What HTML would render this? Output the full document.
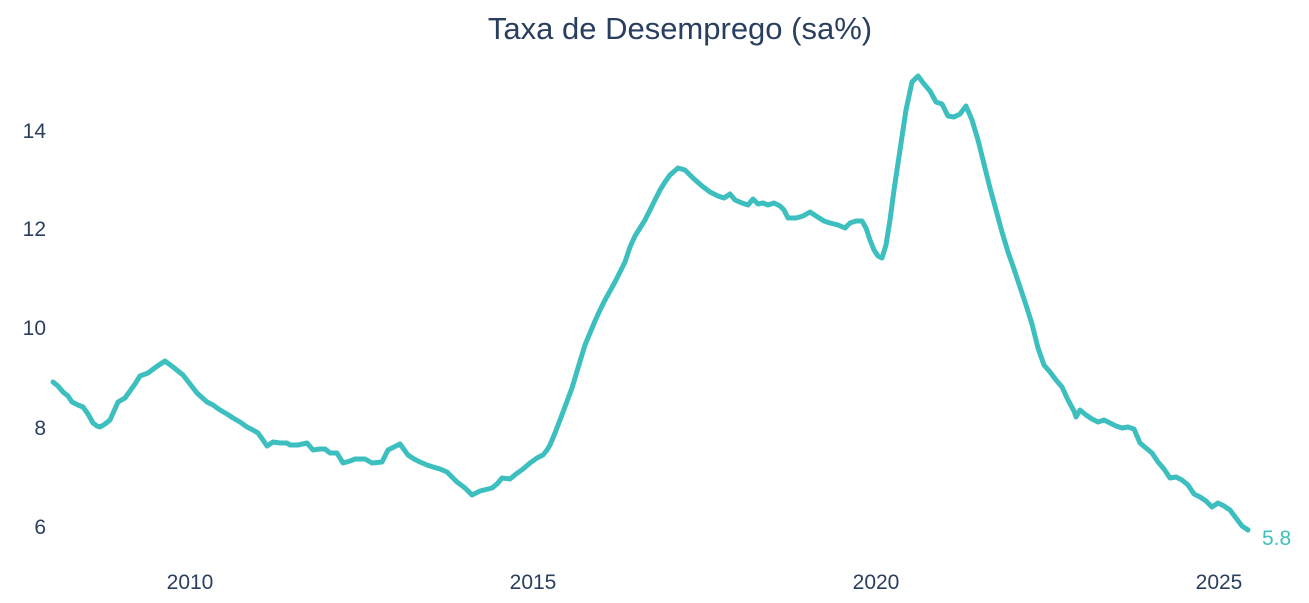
<!DOCTYPE html>
<html><head><meta charset="utf-8"><style>
html,body{margin:0;padding:0;background:#fff;width:1309px;height:603px;overflow:hidden}
svg text{font-family:"Liberation Sans","DejaVu Sans",sans-serif}
</style></head><body>
<svg width="1309" height="603" viewBox="0 0 1309 603" xmlns="http://www.w3.org/2000/svg">
<text x="680" y="39" text-anchor="middle" font-size="31" fill="#2a3f5f">Taxa de Desemprego (sa%)</text>
<g font-size="21" fill="#2a3f5f" text-anchor="end">
<text x="46" y="138">14</text>
<text x="46" y="236">12</text>
<text x="46" y="335">10</text>
<text x="46" y="435">8</text>
<text x="46" y="534">6</text>
</g>
<g font-size="21" fill="#2a3f5f" text-anchor="middle">
<text x="190" y="589">2010</text>
<text x="533" y="589">2015</text>
<text x="876" y="589">2020</text>
<text x="1219" y="589">2025</text>
</g>
<polyline fill="none" stroke="#3dbfbf" stroke-width="5" stroke-linejoin="round" stroke-linecap="round" points="53,382 58,386 63,392 68,396 72,402 78,405 83,407 88,414 93,423 97,426 100,427 105,424 110,420 114,411 118,402 125,398 130,391 135,384 140,376 148,373 156,367 165,361 173,367 178,371 183,375 190,384 197,393 207,402 213,405 220,410 227,414 233,418 240,422 247,427 253,430 258,433 263,440 267,446 273,442 280,443 287,443 290,445 298,445 307,443 313,450 320,449 325,449 330,453 337,453 343,463 350,461 355,459 365,459 372,463 382,462 388,450 394,447 400,444 408,455 414,459 420,462 427,465 433,467 440,469 447,472 452,477 457,482 465,488 472,495 480,491 492,488 497,484 502,478 510,479 516,474 523,469 530,463 537,458 543,455 547,450 550,445 555,433 560,420 566,404 572,388 578,368 585,345 590,333 595,321 600,310 605,300 610,291 615,282 620,272 625,262 630,247 635,236 640,228 645,220 650,210 655,200 660,190 665,182 670,175 678,168 685,170 693,178 702,186 710,192 718,196 724,198 730,194 735,200 742,203 748,205 753,199 758,204 763,203 768,205 774,203 780,206 784,210 788,218 796,218 803,216 810,212 816,216 824,221 830,223 838,225 845,228 850,223 856,221 862,221 866,228 870,240 874,250 878,256 882,258 886,245 890,220 894,190 900,150 906,110 912,82 918,76 924,84 930,91 936,102 942,104 948,116 954,117 960,114 966,106 972,120 978,140 984,164 990,188 996,210 1002,232 1008,252 1014,269 1020,287 1026,305 1032,324 1038,348 1044,365 1050,372 1056,380 1062,387 1068,400 1074,411 1076,417 1080,410 1086,415 1092,419 1098,422 1104,420 1110,423 1116,426 1122,428 1128,427 1134,429 1140,443 1146,448 1152,453 1158,462 1164,469 1170,478 1176,477 1182,480 1188,485 1194,494 1200,497 1206,501 1212,507 1218,503 1224,506 1230,510 1236,518 1242,526 1248,530"/>
<text x="1262" y="545" font-size="21" fill="#3dbfbf">5.8</text>
</svg>
</body></html>
